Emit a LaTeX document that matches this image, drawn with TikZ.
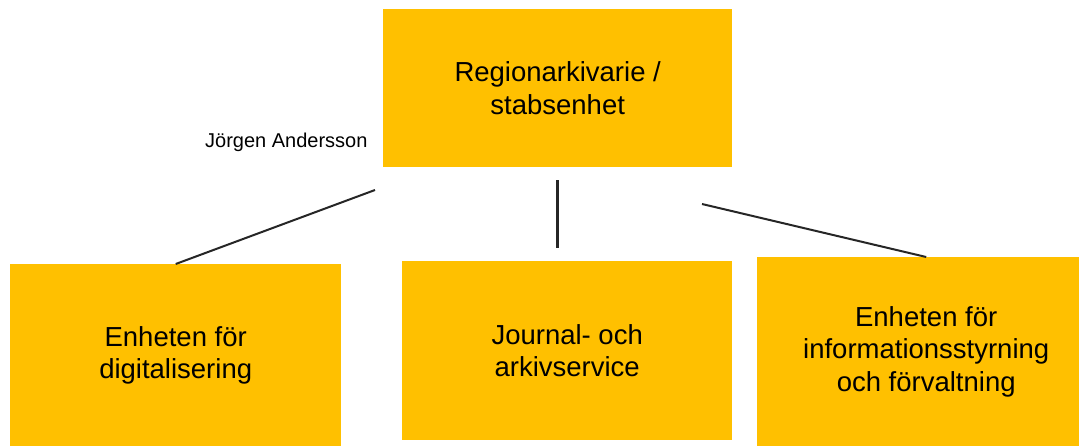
\documentclass[tikz,border=0pt]{standalone}
\usepackage{fontspec}
\setmainfont{Liberation Sans}
\definecolor{gold}{HTML}{FFC000}
\definecolor{linegray}{HTML}{262626}
\begin{document}
\begin{tikzpicture}[x=1pt,y=-1pt,
  box/.style={fill=gold,draw=none,inner sep=0pt,align=center,anchor=north west,
    font=\fontsize{27.5}{32.5}\selectfont},
  link/.style={draw=linegray,line width=2pt},
  thicklink/.style={draw=linegray,line width=3pt}]
\useasboundingbox (0,0) rectangle (1079,445);
\node[box,minimum width=349pt,minimum height=158pt] (top) at (383,9) {Regionarkivarie /\\stabsenhet};
\node[box,minimum width=331pt,minimum height=182pt] (digi) at (10,264) {Enheten för\\digitalisering};
\node[box,minimum width=330pt,minimum height=179pt] (jas) at (402,261) {Journal- och\\arkivservice};
\node[box,minimum width=338pt,minimum height=189pt] (ist) at (757,257) {Enheten för\\informationsstyrning\\och förvaltning};
\node[anchor=base west,inner sep=0pt,font=\fontsize{20}{24}\selectfont] (name) at (205,147) {Jörgen Andersson};
\coordinate (lt) at (375,190);
\coordinate (mt) at (557,180);
\coordinate (mb) at (557,248);
\coordinate (rt) at (702,204);
\draw[link] (lt) -- (digi.north);
\draw[thicklink] (mt) -- (mb);
\draw[link] (rt) -- (ist.north);
\end{tikzpicture}
\end{document}
